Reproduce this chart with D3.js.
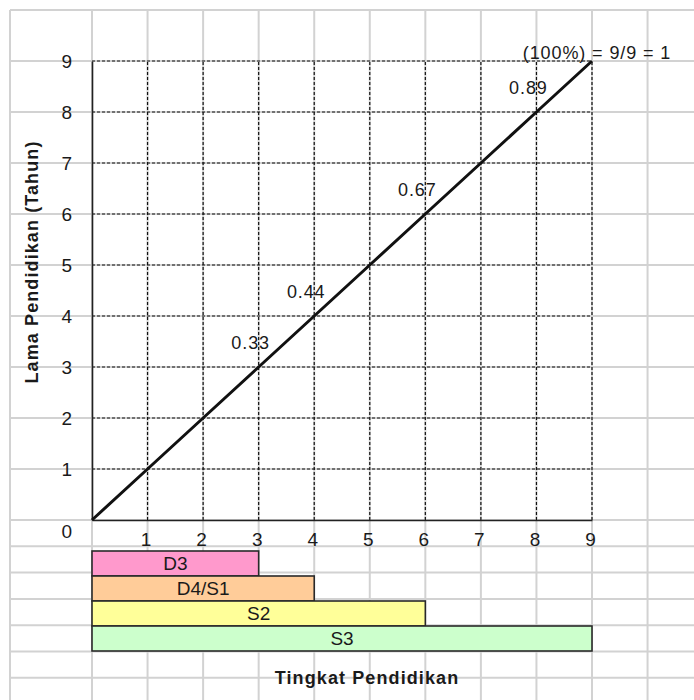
<!DOCTYPE html>
<html>
<head>
<meta charset="utf-8">
<script src="https://cdn.jsdelivr.net/npm/d3@7"></script>
<style>
  html, body { margin: 0; padding: 0; background: #fff; }
  svg { display: block; }
  text { font-family: Arial, "Liberation Sans", sans-serif; fill: #1a1a1a; }
</style>
</head>
<body>
<svg id="chart" width="694" height="700"></svg>
<script>
// Education level vs. years of schooling
const xTicks = [1, 2, 3, 4, 5, 6, 7, 8, 9];
const yTicks = [0, 1, 2, 3, 4, 5, 6, 7, 8, 9];

// Years line (level on x, years on y)
const lineLevel = [0, 1, 2, 3, 4, 5, 6, 7, 8, 9];
const lineYears = [0, 1, 2, 3, 4, 5, 6, 7, 8, 9];

// Ratio annotations placed on the line
const ratioAt = [3, 4, 6, 8, 9];
const ratioText = ["0.33", "0.44", "0.67", "0.89", "(100%) = 9/9 = 1"];

// Degree bars
const degrees = ["D3", "D4/S1", "S2", "S3"];
const degreeYears = [3, 4, 6, 9];
const degreeColors = ["#ff99cc", "#ffcc99", "#ffff99", "#ccffcc"];

const svg = d3.select("#chart");

const x = d3.scaleLinear().domain([0, 9]).range([92, 592]);
const y = d3.scaleLinear().domain([0, 9]).range([520, 61]);
const rowH = (y(0) - y(9)) / 9;

// Worksheet cell grid behind everything
const sheet = svg.append("g").attr("stroke", "#d2d2d2").attr("stroke-width", 2);
const colXs = [10].concat(d3.range(0, 11).map(v => x(v)));
const rowYs = d3.range(0, 11).map(v => y(0) - v * rowH)
  .concat(d3.range(1, 7).map(k => y(0) + k * 26.3));
sheet.selectAll("line.col").data(colXs).join("line").attr("class", "col")
  .attr("x1", d => d).attr("x2", d => d).attr("y1", 10).attr("y2", 700);
sheet.selectAll("line.row").data(rowYs).join("line").attr("class", "row")
  .attr("x1", 10).attr("x2", 694).attr("y1", d => d).attr("y2", d => d);

// Dashed gridlines
const grid = svg.append("g").attr("stroke", "#111").attr("stroke-width", 1.2)
  .attr("stroke-dasharray", "3,2").attr("fill", "none");
grid.selectAll("line.v").data(xTicks).join("line").attr("class", "v")
  .attr("x1", d => x(d)).attr("x2", d => x(d)).attr("y1", y(0)).attr("y2", y(9));
grid.selectAll("line.h").data(yTicks.filter(d => d > 0)).join("line").attr("class", "h")
  .attr("x1", x(0)).attr("x2", x(9)).attr("y1", d => y(d)).attr("y2", d => y(d));

// Axes
const yAxis = svg.append("g").attr("transform", `translate(${x(0)},0)`)
  .call(d3.axisLeft(y).tickValues(yTicks).tickSize(0).tickPadding(20));
yAxis.select(".domain").attr("stroke", "#222").attr("stroke-width", 1.6);
yAxis.selectAll(".tick text")
  .style("font-size", "19px").style("font-family", "Arial, 'Liberation Sans', sans-serif")
  .attr("fill", "#1a1a1a")
  .attr("dy", d => d === 0 ? "0.92em" : "0.36em");

const xAxis = svg.append("g").attr("transform", `translate(0,${y(0)})`)
  .call(d3.axisBottom(x).tickValues(xTicks).tickSize(0).tickPadding(13));
xAxis.select(".domain").attr("stroke", "#222").attr("stroke-width", 1.6);
xAxis.selectAll(".tick text")
  .style("font-size", "19px").style("font-family", "Arial, 'Liberation Sans', sans-serif")
  .attr("fill", "#1a1a1a").attr("dx", -2);

// Years line
const linePts = lineLevel.map((v, i) => [v, lineYears[i]]);
svg.append("path").datum(linePts)
  .attr("fill", "none").attr("stroke", "#111").attr("stroke-width", 3)
  .attr("d", d3.line().x(d => x(d[0])).y(d => y(d[1])));

// Ratio labels
svg.selectAll("text.ratio").data(ratioAt).join("text").attr("class", "ratio")
  .attr("x", (d, i) => i === ratioAt.length - 1 ? x(d) + 5 : x(d) - 8)
  .attr("y", (d, i) => i === ratioAt.length - 1 ? y(d) - 2 : y(d) - 18)
  .attr("text-anchor", "middle")
  .style("font-size", "18px").style("letter-spacing", "0.9px")
  .text((d, i) => ratioText[i]);

// Degree bars
const band = d3.scaleBand().domain(degrees).range([551, 651]).padding(0);
const bars = svg.append("g");
bars.selectAll("rect").data(degrees).join("rect")
  .attr("x", x(0)).attr("y", d => band(d))
  .attr("width", (d, i) => x(degreeYears[i]) - x(0))
  .attr("height", band.bandwidth())
  .attr("fill", (d, i) => degreeColors[i])
  .attr("stroke", "#2a2a2a").attr("stroke-width", 1.6);
bars.selectAll("text").data(degrees).join("text")
  .attr("x", (d, i) => (x(0) + x(degreeYears[i])) / 2)
  .attr("y", d => band(d) + band.bandwidth() / 2)
  .attr("dy", "0.36em").attr("text-anchor", "middle")
  .style("font-size", "19px")
  .text(d => d);

// Axis titles
svg.append("text")
  .attr("x", 367).attr("y", 684).attr("text-anchor", "middle")
  .style("font-size", "18px").style("font-weight", "bold").style("letter-spacing", "1.1px")
  .text("Tingkat Pendidikan");
svg.append("text")
  .attr("transform", "translate(38,262) rotate(-90)").attr("text-anchor", "middle")
  .style("font-size", "18px").style("font-weight", "bold").style("letter-spacing", "1.1px")
  .text("Lama Pendidikan (Tahun)");
</script>
</body>
</html>
